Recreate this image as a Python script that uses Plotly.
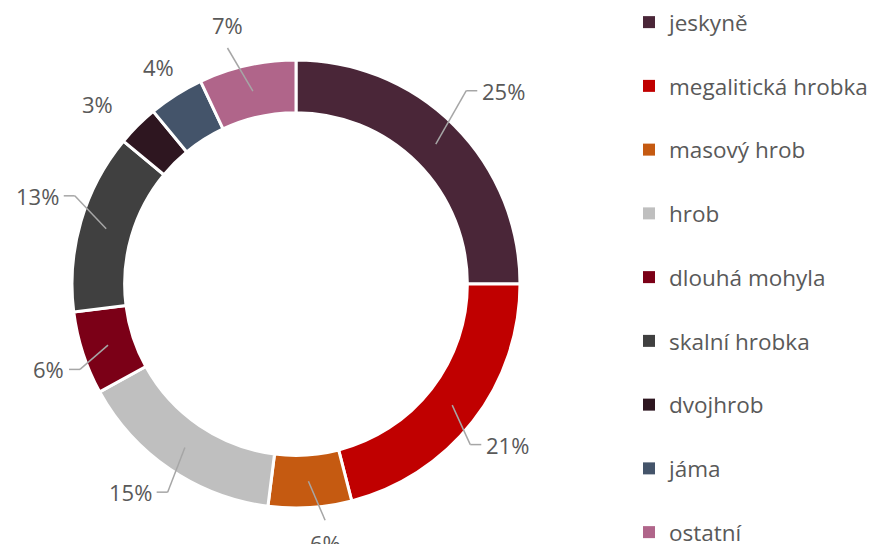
import math
import plotly.graph_objects as go

######################################
# Data
######################################

labels = ["jeskyně", "megalitická hrobka", "masový hrob", "hrob", "dlouhá mohyla",
          "skalní hrobka", "dvojhrob", "jáma", "ostatní"]
values = [25, 21, 6, 15, 6, 13, 3, 4, 7]
colors = ["#4A2638", "#C00000", "#C55A11", "#BFBFBF", "#7B0017",
          "#404040", "#2E1620", "#44546A", "#B0658A"]

######################################
# Layout geometry
######################################

W, H = 875, 544
OFF = 8                       # page body margin shifts the figure by this much
M_T, M_B = 60 - OFF, 36 + OFF
PLOT_H = H - M_T - M_B
CX, CY = 296 - OFF, M_T + PLOT_H / 2
R = PLOT_H / 2
HOLE = 0.765
TEXT = "#595959"
FONT = "Open Sans"
# small pixel nudges of the data labels (Excel "best fit" placement)
LABEL_NUDGE = [(0, -23), (-16, 13), (14, -4), (7, 9), (13, 11),
               (10, -21), (-10, 8), (5, 8), (-16, -1)]


def to_paper(px, py):
    return px / W, (M_T + PLOT_H - py) / PLOT_H


fig = go.Figure()

fig.add_trace(go.Pie(
    labels=labels, values=values, sort=False, direction="clockwise", rotation=0,
    hole=HOLE, textinfo="none", showlegend=False,
    marker=dict(colors=colors, line=dict(color="white", width=3)),
    domain=dict(x=[(CX - R - 5) / W, (CX + R + 5) / W], y=[0, 1]),
))

# legend entries (one group each so the spacing can be set)
for i, (lab, col) in enumerate(zip(labels, colors)):
    fig.add_trace(go.Scatter(
        x=[None], y=[None], mode="markers", name=lab, legendgroup=str(i),
        marker=dict(symbol="square", size=11, color=col),
    ))

# percentage labels with leader lines
total = sum(values)
cum = 0
r_mid = R * (1 + HOLE) / 2
lbl_font = dict(size=22, color=TEXT, family=FONT)
line_style = dict(color="#A6A6A6", width=1.5)
for v, (dx, dy) in zip(values, LABEL_NUDGE):
    ang = math.radians((cum + v / 2) / total * 360)
    cum += v
    s, c = math.sin(ang), -math.cos(ang)
    pct = f"{round(100 * v / total)}%"
    if v < 5:
        x, y = to_paper(CX + 1.19 * R * s + dx, CY + 1.19 * R * c + dy)
        fig.add_annotation(x=x, y=y, xref="paper", yref="paper", text=pct,
                           xanchor="center", yanchor="middle",
                           showarrow=False, font=lbl_font)
        continue
    ex, ey = CX + 1.075 * R * s + dx, CY + 1.075 * R * c + dy
    x0, y0 = to_paper(CX + r_mid * s, CY + r_mid * c)
    x1, y1 = to_paper(ex, ey)
    fig.add_shape(type="line", xref="paper", yref="paper", x0=x0, y0=y0, x1=x1, y1=y1,
                  line=line_style)
    if abs(s) < 0.3:
        _, ty = to_paper(ex, ey + (6 if c > 0 else -6))
        fig.add_annotation(x=x1, y=ty, xref="paper", yref="paper", text=pct, showarrow=False,
                           xanchor="center", yanchor="top" if c > 0 else "bottom",
                           font=lbl_font)
    else:
        side = 1 if s > 0 else -1
        x2, _ = to_paper(ex + side * 11, ey)
        fig.add_shape(type="line", xref="paper", yref="paper", x0=x1, y0=y1, x1=x2, y1=y1,
                      line=line_style)
        tx, _ = to_paper(ex + side * 14, ey)
        fig.add_annotation(x=tx, y=y1, xref="paper", yref="paper", text=pct, showarrow=False,
                           xanchor="left" if side > 0 else "right", yanchor="middle",
                           font=lbl_font)

fig.update_layout(
    width=W, height=H,
    margin=dict(l=0, r=0, t=M_T, b=M_B, autoexpand=False),
    paper_bgcolor="white", plot_bgcolor="white",
    xaxis=dict(visible=False), yaxis=dict(visible=False),
    legend=dict(x=(629 - OFF) / W, xanchor="left", y=(M_T + PLOT_H + 7) / PLOT_H,
                yanchor="top", traceorder="grouped", tracegroupgap=31.5, maxheight=800,
                font=dict(size=22.5, color=TEXT, family=FONT), itemsizing="constant"),
)

fig.write_html("out.html")
